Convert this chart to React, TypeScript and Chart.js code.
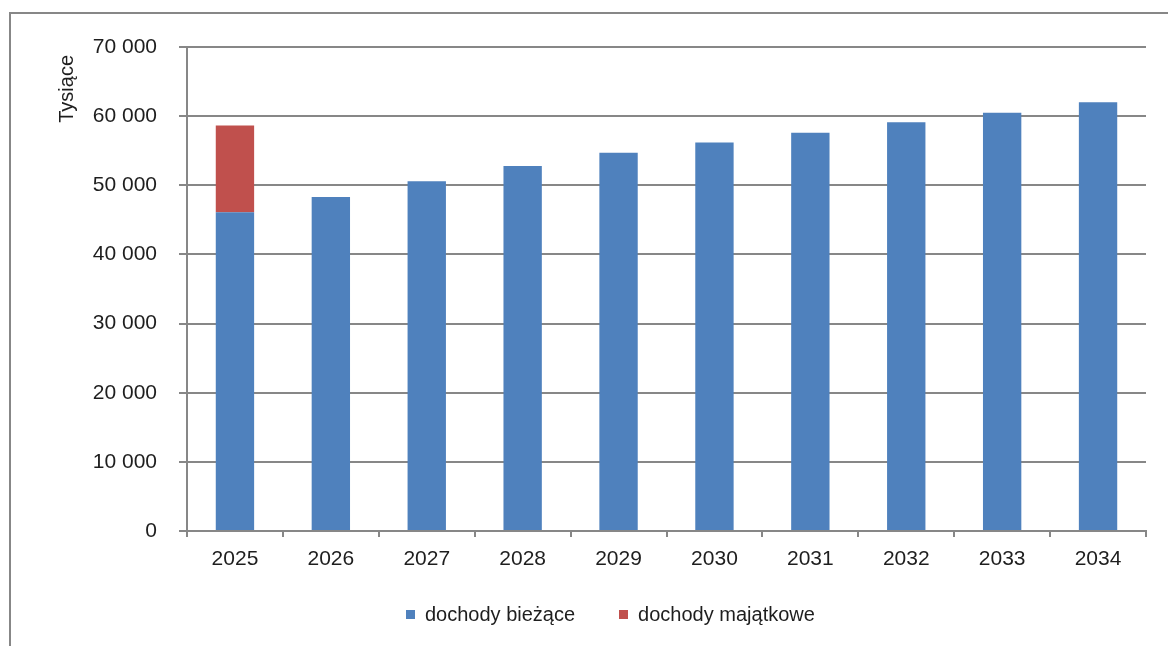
import React, { useEffect, useRef } from "react";
import { Chart, registerables } from "chart.js";

Chart.register(...registerables);

// Budget revenue forecast, in thousands
const years = ["2025", "2026", "2027", "2028", "2029", "2030", "2031", "2032", "2033", "2034"];
const currentRevenue = [46100, 48300, 50600, 52800, 54700, 56200, 57600, 59100, 60500, 62000];
const assetRevenue = [12550, null, null, null, null, null, null, null, null, null];
const seriesNames = ["dochody bieżące", "dochody majątkowe"];
const seriesColors = ["#4F81BD", "#C0504D"];
const axisTitle = "Tysiące";
const yMin = 0;
const yMax = 70000;
const yStep = 10000;

const FONT = "'Liberation Sans', Arial, sans-serif";
const TEXT = "#1e1e1e";
const LINE = "#878787";

const formatThousands = (v: number) =>
  String(Math.round(v)).replace(/\B(?=(\d{3})+(?!\d))/g, " ");

// Vertical axis caption placed at the top end of the value axis
const axisCaption = {
  id: "axisCaption",
  afterDraw(chart: Chart) {
    const { ctx, chartArea } = chart;
    ctx.save();
    ctx.font = `20px ${FONT}`;
    ctx.fillStyle = TEXT;
    ctx.translate(67, chartArea.top + 8);
    ctx.rotate(-Math.PI / 2);
    ctx.textAlign = "right";
    ctx.textBaseline = "middle";
    ctx.fillText(axisTitle, 0, 0);
    ctx.restore();
  },
};

function RevenueChart() {
  const canvasRef = useRef<HTMLCanvasElement | null>(null);

  useEffect(() => {
    if (!canvasRef.current) return;
    const chart = new Chart(canvasRef.current, {
      type: "bar",
      data: {
        labels: years,
        datasets: [
          {
            label: seriesNames[0],
            data: currentRevenue,
            backgroundColor: seriesColors[0],
            borderWidth: 0,
          },
          {
            label: seriesNames[1],
            data: assetRevenue,
            backgroundColor: seriesColors[1],
            borderWidth: 0,
          },
        ],
      },
      options: {
        animation: false,
        responsive: false,
        layout: { padding: { left: 0, right: 22, top: 47, bottom: 55 } },
        datasets: {
          bar: { categoryPercentage: 1, barPercentage: 0.4 },
        },
        plugins: {
          legend: { display: false },
          tooltip: { enabled: false },
        },
        scales: {
          x: {
            stacked: true,
            afterFit: (scale: any) => {
              scale.height = 60;
            },
            grid: {
              display: true,
              offset: true,
              drawOnChartArea: false,
              drawTicks: true,
              tickLength: 6,
              color: LINE,
              lineWidth: 2,
            },
            border: { display: true, color: LINE, width: 2 },
            ticks: {
              color: TEXT,
              padding: 10,
              maxRotation: 0,
              font: { family: FONT, size: 21 },
            },
          },
          y: {
            stacked: true,
            min: yMin,
            max: yMax,
            afterFit: (scale: any) => {
              scale.width = 187;
            },
            grid: {
              color: LINE,
              lineWidth: 2,
              drawTicks: true,
              tickLength: 8,
            },
            border: { display: true, color: LINE, width: 2 },
            ticks: {
              stepSize: yStep,
              color: TEXT,
              padding: 22,
              font: { family: FONT, size: 21 },
              callback: (v: any) => formatThousands(Number(v)),
            },
          },
        },
      },
      plugins: [axisCaption],
    });
    return () => chart.destroy();
  }, []);

  return (
    <canvas
      ref={canvasRef}
      width={1168}
      height={646}
      style={{ position: "absolute", left: 0, top: 0, display: "block" }}
    />
  );
}

function Legend() {
  return (
    <div
      style={{
        position: "absolute",
        left: 406,
        top: 602,
        height: 24,
        display: "flex",
        alignItems: "center",
        fontFamily: FONT,
        fontSize: 20,
        color: TEXT,
        whiteSpace: "nowrap",
      }}
    >
      {seriesNames.map((name, i) => (
        <div
          key={name}
          style={{ display: "flex", alignItems: "center", marginLeft: i === 0 ? 0 : 44 }}
        >
          <span
            style={{
              display: "inline-block",
              width: 9,
              height: 9,
              background: seriesColors[i],
              marginRight: 10,
            }}
          />
          <span>{name}</span>
        </div>
      ))}
    </div>
  );
}

export default function App() {
  return (
    <div
      style={{
        position: "fixed",
        left: 0,
        top: 0,
        width: 1168,
        height: 646,
        overflow: "hidden",
        background: "#ffffff",
      }}
    >
      <div
        style={{
          position: "absolute",
          left: 9,
          top: 12,
          width: 1300,
          height: 800,
          border: `2px solid ${LINE}`,
          boxSizing: "border-box",
        }}
      />
      <RevenueChart />
      <Legend />
    </div>
  );
}
